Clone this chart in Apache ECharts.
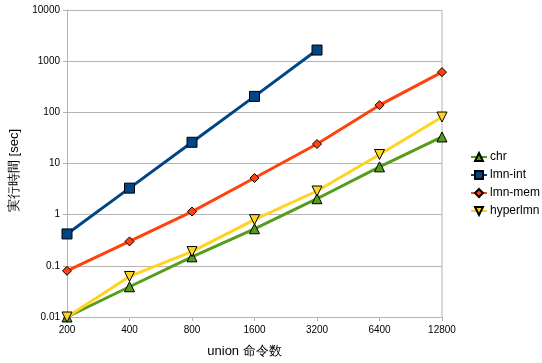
<!DOCTYPE html>
<html>
<head>
<meta charset="utf-8">
<script src="https://cdn.jsdelivr.net/npm/echarts@6/dist/echarts.min.js"></script>
<style>
html, body { margin: 0; padding: 0; background: #fff; }
#container { width: 542px; height: 363px; }
</style>
</head>
<body>
<div id="container"></div>
<script>
var dom = document.getElementById("container");
var myChart = echarts.init(dom);

// x categories (union 命令数)
var unionCounts = ['200', '400', '800', '1600', '3200', '6400', '12800'];

// 実行時間 [sec]
var chrTimes = [0.01, 0.039, 0.15, 0.53, 2.05, 8.6, 33];
var lmnIntTimes = [0.42, 3.3, 26, 205, 1650, null, null];
var lmnMemTimes = [0.08, 0.3, 1.15, 5.2, 24, 138, 610];
var hyperLmnTimes = [0.01, 0.062, 0.19, 0.8, 2.9, 15, 81];

var fontFam = '"Liberation Sans", Arial, sans-serif';

function makeSeries(name, data, color, symbol, size, rotate) {
    return {
        name: name,
        type: 'line',
        data: data,
        symbol: symbol,
        symbolSize: size,
        symbolRotate: rotate || 0,
        showAllSymbol: true,
        connectNulls: false,
        lineStyle: { color: color, width: 3 },
        itemStyle: { color: color, borderColor: '#000', borderWidth: 1 },
        emphasis: { disabled: true }
    };
}

var option = {
    animation: false,
    textStyle: { fontFamily: fontFam },
    grid: { left: 65, right: 100, top: 10, bottom: 45 },
    legend: {
        orient: 'vertical',
        left: 465,
        top: 146,
        padding: 5,
        itemWidth: 16,
        itemHeight: 10,
        itemGap: 6,
        textStyle: { fontSize: 12, color: '#000', fontFamily: fontFam, padding: [0, 0, 0, -2] },
        data: ['chr', 'lmn-int', 'lmn-mem', 'hyperlmn']
    },
    xAxis: {
        type: 'category',
        data: unionCounts,
        boundaryGap: false,
        name: 'union 命令数',
        nameLocation: 'middle',
        nameGap: 28,
        nameTextStyle: { fontSize: 13, color: '#000', fontFamily: fontFam, padding: [0, 20, 0, 0] },
        axisLine: { lineStyle: { color: '#b3b3b3', width: 1 } },
        axisTick: { show: true, length: 4, lineStyle: { color: '#b3b3b3' } },
        axisLabel: { fontSize: 10, color: '#000', margin: 8 },
        splitLine: { show: false }
    },
    yAxis: {
        type: 'log',
        logBase: 10,
        min: 0.01,
        max: 10000,
        name: '実行時間 [sec]',
        nameLocation: 'middle',
        nameGap: 46,
        nameRotate: 90,
        nameTextStyle: { fontSize: 13, color: '#000', fontFamily: fontFam, padding: [0, 14, 0, 0] },
        axisLine: { show: true, lineStyle: { color: '#b3b3b3', width: 1 } },
        axisTick: { show: true, length: 4, lineStyle: { color: '#b3b3b3' } },
        axisLabel: {
            fontSize: 10,
            color: '#000',
            margin: 7,
            formatter: function (v) { return String(+v.toPrecision(3)); }
        },
        splitLine: { show: true, lineStyle: { color: '#b3b3b3', width: 1 } }
    },
    series: [
        makeSeries('chr', chrTimes, '#579d1c', 'triangle', 10),
        makeSeries('lmn-int', lmnIntTimes, '#004586', 'rect', 10),
        makeSeries('lmn-mem', lmnMemTimes, '#ff420e', 'diamond', 9),
        makeSeries('hyperlmn', hyperLmnTimes, '#ffd320', 'triangle', 10, 180)
    ]
};

myChart.setOption(option);

// right frame line of the plot area, taken from the grid geometry
var rect = myChart.getModel().getComponent('grid').coordinateSystem.getRect();
myChart.setOption({
    graphic: [{
        type: 'line',
        shape: { x1: rect.x + rect.width, y1: rect.y, x2: rect.x + rect.width, y2: rect.y + rect.height },
        style: { stroke: '#b3b3b3', lineWidth: 1 },
        z: 0
    }]
});
</script>
</body>
</html>
